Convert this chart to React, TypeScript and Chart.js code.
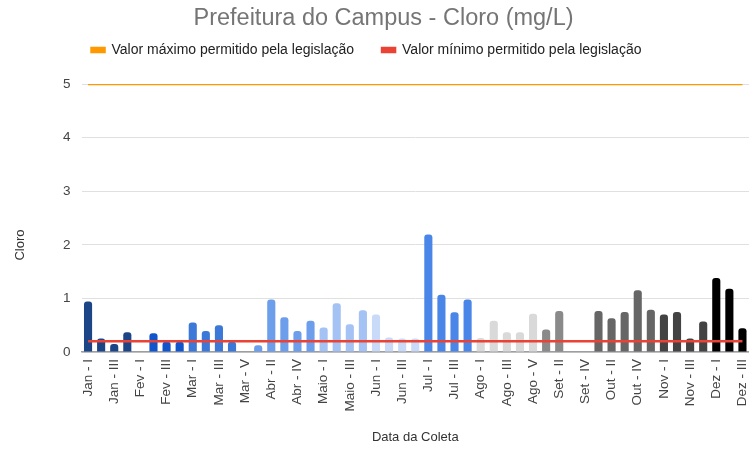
import React, { useEffect, useRef } from "react";
import { Chart, registerables } from "chart.js";

Chart.register(...registerables);

const categories = [
  "Jan - I", "Jan - II", "Jan - III", "Jan - IV",
  "Fev - I", "Fev - II", "Fev - III", "Fev - IV",
  "Mar - I", "Mar - II", "Mar - III", "Mar - IV", "Mar - V",
  "Abr - I", "Abr - II", "Abr - III", "Abr - IV", "Abr - V",
  "Maio - I", "Maio - II", "Maio - III", "Maio - IV",
  "Jun - I", "Jun - II", "Jun - III", "Jun - IV",
  "Jul - I", "Jul - II", "Jul - III", "Jul - IV",
  "Ago - I", "Ago - II", "Ago - III", "Ago - IV", "Ago - V",
  "Set - I", "Set - II", "Set - III", "Set - IV",
  "Out - I", "Out - II", "Out - III", "Out - IV", "Out - V",
  "Nov - I", "Nov - II", "Nov - III", "Nov - IV",
  "Dez - I", "Dez - II", "Dez - III",
];

const cloro: (number | null)[] = [
  0.94, 0.25, 0.15, 0.37,
  null, 0.35, 0.19, 0.19,
  0.55, 0.39, 0.5, 0.19, null,
  0.125, 0.98, 0.65, 0.39, 0.585,
  0.455, 0.91, 0.52, 0.78,
  0.7, 0.27, 0.25, 0.25,
  2.19, 1.07, 0.74, 0.98,
  0.26, 0.585, 0.37, 0.37, 0.715,
  0.42, 0.765, null, null,
  0.765, 0.63, 0.745, 1.15, 0.79,
  0.7, 0.745, 0.25, 0.57,
  1.38, 1.18, 0.445,
];

const MAX_LIMIT = 5;
const MIN_LIMIT = 0.2;
const yTicks = [0, 1, 2, 3, 4, 5];

const monthColors: Record<string, string> = {
  Jan: "#1c4587",
  Fev: "#1155cc",
  Mar: "#3c78d8",
  Abr: "#6d9eeb",
  Maio: "#a4c2f4",
  Jun: "#c9daf8",
  Jul: "#4a86e8",
  Ago: "#d9d9d9",
  Set: "#8a8a8a",
  Out: "#666666",
  Nov: "#434343",
  Dez: "#000000",
};

const FONT = '"Liberation Sans", Arial, sans-serif';

export default function App() {
  const ref = useRef<HTMLCanvasElement | null>(null);

  useEffect(() => {
    if (!ref.current) return;
    const barColors = categories.map((c) => monthColors[c.split(" - ")[0]]);
    const layoutTweaks = {
      id: "layoutTweaks",
      beforeInit(chart: any) {
        const origFit = chart.legend.fit;
        chart.legend.fit = function () {
          origFit.bind(chart.legend)();
          this.height += 17;
        };
      },
      afterLayout(chart: any) {
        chart.legend.left -= 8;
        chart.legend.right -= 8;
        if (chart.titleBlock) {
          chart.titleBlock.left += 9;
          chart.titleBlock.right += 9;
        }
      },
      afterDraw(chart: any) {
        const ctx = chart.ctx;
        ctx.save();
        ctx.translate(20, 245);
        ctx.rotate(-Math.PI / 2);
        ctx.textAlign = "center";
        ctx.textBaseline = "middle";
        ctx.fillStyle = "#333333";
        ctx.font = `13px ${FONT}`;
        ctx.fillText("Cloro", 0, 0);
        ctx.restore();
      },
    };
    const chart = new Chart(ref.current, {
      type: "bar",
      data: {
        labels: categories,
        datasets: [
          {
            type: "line",
            label: "Valor máximo permitido pela legislação",
            data: categories.map(() => MAX_LIMIT),
            borderColor: "#ff9900",
            backgroundColor: "#ff9900",
            borderWidth: 2.5,
            pointRadius: 0,
            order: 0,
          } as any,
          {
            type: "line",
            label: "Valor mínimo permitido pela legislação",
            data: categories.map(() => MIN_LIMIT),
            borderColor: "#ea4335",
            backgroundColor: "#ea4335",
            borderWidth: 2.5,
            pointRadius: 0,
            order: 0,
          } as any,
          {
            type: "bar",
            label: "Cloro",
            data: cloro,
            backgroundColor: barColors,
            borderRadius: 3,
            borderSkipped: "start",
            categoryPercentage: 1,
            barPercentage: 0.62,
            order: 1,
          } as any,
        ],
      },
      options: {
        animation: false,
        responsive: true,
        maintainAspectRatio: false,
        layout: { padding: { left: 0, right: 0, top: 0, bottom: 0 } },
        plugins: {
          title: {
            display: true,
            text: "Prefeitura do Campus - Cloro (mg/L)",
            color: "#757575",
            font: { family: FONT, size: 23.5, weight: "normal" },
            padding: { top: 4, bottom: -17.2 },
          },
          legend: {
            display: true,
            position: "top",
            labels: {
              filter: (item: any) => item.datasetIndex < 2,
              boxWidth: 13,
              boxHeight: 4,
              color: "#222222",
              font: { family: FONT, size: 14 },
              padding: 28,
            },
          },
          tooltip: { enabled: false },
        },
        scales: {
          x: {
            offset: true,
            grid: { display: false, drawTicks: false },
            border: { display: true, color: "#9e9e9e", width: 1.5 },
            afterFit: (axis: any) => {
              axis.height = 101;
              axis.paddingRight = 0;
              axis.paddingLeft = 0;
            },
            ticks: {
              autoSkip: false,
              maxRotation: 90,
              minRotation: 90,
              padding: 7,
              color: "#444444",
              font: { family: FONT, size: 13.5 },
              callback: (_v: any, i: number) => (i % 2 === 0 ? categories[i] : ""),
            },
            title: {
              display: true,
              text: "Data da Coleta",
              color: "#333333",
              font: { family: FONT, size: 13 },
              padding: { top: 4, bottom: 8 },
            },
          },
          y: {
            min: 0,
            max: 5,
            afterBuildTicks: (axis: any) => {
              axis.ticks = yTicks.map((v) => ({ value: v }));
            },
            afterFit: (axis: any) => {
              axis.width = 81.5;
            },
            grid: { color: "#e0e0e0", drawTicks: false, lineWidth: 1 },
            border: { display: false },
            ticks: {
              padding: 11,
              color: "#444444",
              font: { family: FONT, size: 13.5 },
            },
          },
        },
      },
      plugins: [layoutTweaks],
    } as any);
    return () => chart.destroy();
  }, []);

  return (
    <div style={{ position: "fixed", left: 0, top: 0, width: 749, height: 453, background: "#fff" }}>
      <canvas ref={ref} />
    </div>
  );
}
